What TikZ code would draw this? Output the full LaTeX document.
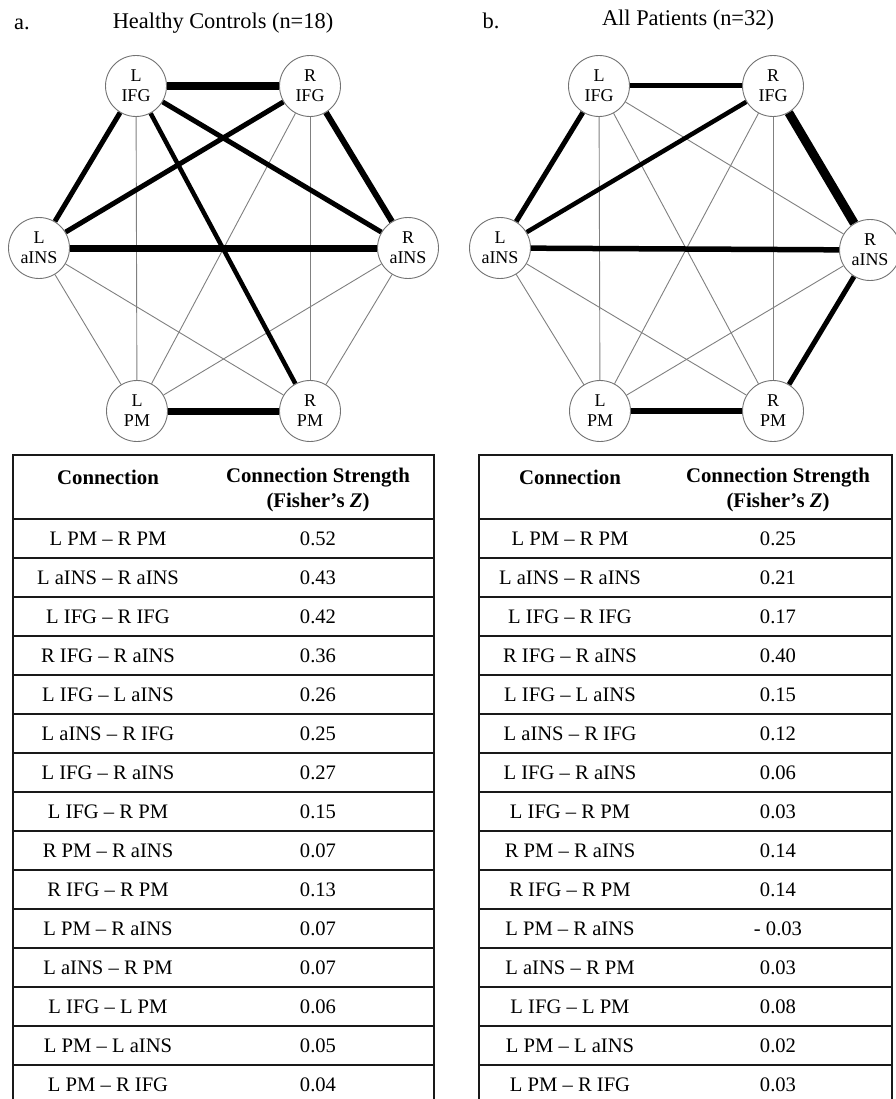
\documentclass[tikz,border=0pt]{standalone}
\usepackage{fontspec}
\setmainfont{Liberation Serif}
\pgfdeclarelayer{bg}
\pgfsetlayers{bg,main}
\begin{document}
\begin{tikzpicture}[x=1pt,y=-1pt,
  region/.style={circle,draw=black!55,line width=0.9pt,fill=white,minimum size=61pt,inner sep=0pt,align=center,font=\fontsize{18}{20}\selectfont},
  weak/.style={line width=0.9pt,draw=black!50},
  strong/.style={line width=#1pt,draw=black},
  tbl/.style={line width=1.6pt,draw=black!90},
  cell/.style={font=\fontsize{20.6}{24}\selectfont,inner sep=0pt},
  hcell/.style={font=\bfseries\fontsize{20.8}{25}\selectfont,inner sep=0pt,align=center},
  ttl/.style={font=\fontsize{22.4}{24}\selectfont,inner sep=0pt}]
\useasboundingbox (0,0) rectangle (895,1099);
\begin{pgfonlayer}{bg}
\fill[white] (0,0) rectangle (895,1099);
\end{pgfonlayer}

% ---------- titles
\node[ttl] (ta) at (22,24) {a.};
\node[ttl] (tha) at (223,23) {Healthy Controls (n=18)};
\node[ttl] (tb) at (491,21) {b.};
\node[ttl] (thb) at (688,20) {All Patients (n=32)};

% ---------- graph a
\node[region] (aLIFG) at (136,86) {L\\IFG};
\node[region] (aRIFG) at (310,86) {R\\IFG};
\node[region] (aLINS) at (39,248) {L\\aINS};
\node[region] (aRINS) at (408,248) {R\\aINS};
\node[region] (aLPM) at (137,411) {L\\PM};
\node[region] (aRPM) at (310,411) {R\\PM};

\begin{pgfonlayer}{bg}
\draw[weak] (aRPM) -- (aRINS);
\draw[weak] (aRIFG) -- (aRPM);
\draw[weak] (aLPM) -- (aRINS);
\draw[weak] (aLINS) -- (aRPM);
\draw[weak] (aLIFG) -- (aLPM);
\draw[weak] (aLPM) -- (aLINS);
\draw[weak] (aLPM) -- (aRIFG);
\draw[strong=7] (aLPM) -- (aRPM);
\draw[strong=7] (aLINS) -- (aRINS);
\draw[strong=8] (aLIFG) -- (aRIFG);
\draw[strong=6] (aRIFG) -- (aRINS);
\draw[strong=5] (aLIFG) -- (aLINS);
\draw[strong=5] (aLINS) -- (aRIFG);
\draw[strong=5] (aLIFG) -- (aRINS);
\draw[strong=4.5] (aLIFG) -- (aRPM);
\end{pgfonlayer}

% ---------- graph b
\node[region] (bLIFG) at (599,86) {L\\IFG};
\node[region] (bRIFG) at (773,86) {R\\IFG};
\node[region] (bLINS) at (500,248) {L\\aINS};
\node[region] (bRINS) at (870,250) {R\\aINS};
\node[region] (bLPM) at (600,411) {L\\PM};
\node[region] (bRPM) at (773,411) {R\\PM};

\begin{pgfonlayer}{bg}
\draw[weak] (bLIFG) -- (bRINS);
\draw[weak] (bLIFG) -- (bRPM);
\draw[weak] (bRIFG) -- (bRPM);
\draw[weak] (bLPM) -- (bRINS);
\draw[weak] (bLINS) -- (bRPM);
\draw[weak] (bLIFG) -- (bLPM);
\draw[weak] (bLPM) -- (bLINS);
\draw[weak] (bLPM) -- (bRIFG);
\draw[strong=5.5] (bLPM) -- (bRPM);
\draw[strong=5.5] (bLINS) -- (bRINS);
\draw[strong=5] (bLIFG) -- (bRIFG);
\draw[strong=9] (bRIFG) -- (bRINS);
\draw[strong=5] (bLIFG) -- (bLINS);
\draw[strong=4.5] (bLINS) -- (bRIFG);
\draw[strong=5] (bRPM) -- (bRINS);
\end{pgfonlayer}

% ---------- tables
\draw[tbl] (13,455) rectangle (434,1115);
\draw[tbl] (479,455) rectangle (892,1115);
\foreach \k in {0,...,14} {
  \draw[tbl] (13,519+39*\k) -- (434,519+39*\k);
  \draw[tbl] (479,519+39*\k) -- (892,519+39*\k);
}
\node[hcell] (ha1) at (108,477) {Connection};
\node[hcell] (ha2) at (318,489.5) {Connection Strength\\(Fisher’s \textit{Z})};
\node[hcell] (hb1) at (570,477) {Connection};
\node[hcell] (hb2) at (778,489.5) {Connection Strength\\(Fisher’s \textit{Z})};

\foreach \i/\c/\va/\vb in {
  0/L PM – R PM/0.52/0.25,
  1/L aINS – R aINS/0.43/0.21,
  2/L IFG – R IFG/0.42/0.17,
  3/R IFG – R aINS/0.36/0.40,
  4/L IFG – L aINS/0.26/0.15,
  5/L aINS – R IFG/0.25/0.12,
  6/L IFG – R aINS/0.27/0.06,
  7/L IFG – R PM/0.15/0.03,
  8/R PM – R aINS/0.07/0.14,
  9/R IFG – R PM/0.13/0.14,
  10/L PM – R aINS/0.07/- 0.03,
  11/L aINS – R PM/0.07/0.03,
  12/L IFG – L PM/0.06/0.08,
  13/L PM – L aINS/0.05/0.02,
  14/L PM – R IFG/0.04/0.03} {
  \node[cell] (ca\i) at (108,538.5+39*\i) {\c};
  \node[cell] (va\i) at (318,538.5+39*\i) {\va};
  \node[cell] (cb\i) at (570,538.5+39*\i) {\c};
  \node[cell] (vb\i) at (778,538.5+39*\i) {\vb};
}
\end{tikzpicture}
\end{document}
